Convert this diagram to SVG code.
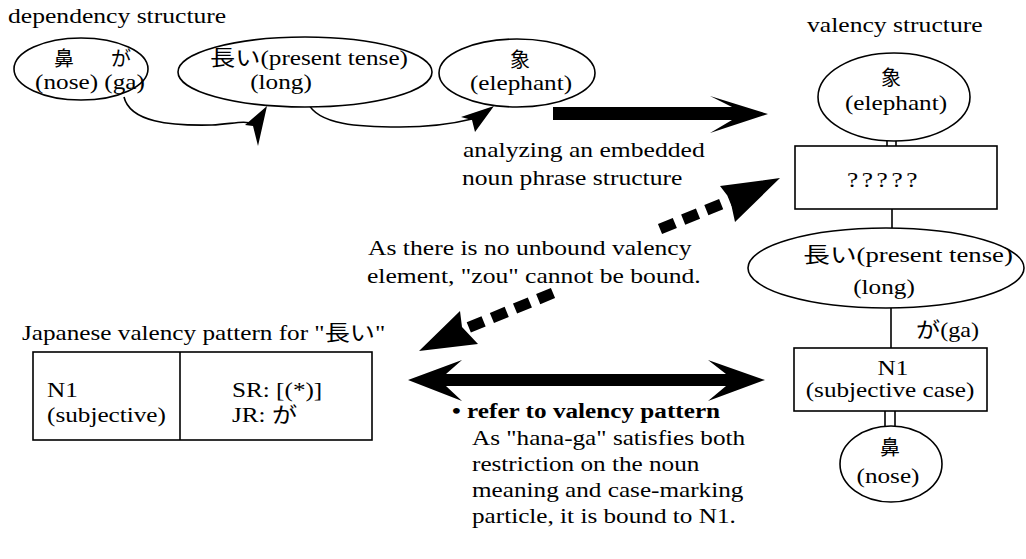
<svg xmlns="http://www.w3.org/2000/svg" width="1026" height="559" viewBox="0 0 1026 559" font-family="Liberation Serif, Noto Sans CJK JP, serif">
<style>
.t{font-size:21px;fill:#000}
.c{text-anchor:middle}
.b{font-weight:bold}
.k{font-size:20px;fill:#000}
.q{letter-spacing:3px}
.shape{fill:#fff;stroke:#000;stroke-width:1.6}
.line{fill:none;stroke:#000;stroke-width:1.6}
.dash{fill:none;stroke:#000;stroke-width:11;stroke-dasharray:16 9}
.head{fill:#000;stroke:none}
</style>
<rect width="1026" height="559" fill="#fff"/>

<text class="t" transform="translate(8,23) scale(1.22,1)">dependency structure</text>
<text class="t" transform="translate(807,32) scale(1.22,1)">valency structure</text>

<g id="connectors">
  <path class="line" d="M124,97 C130,122 170,126 212,125 C232,124 245,120 253,124"/>
  <polygon class="head" points="267,106 245,125 253,126 258,146"/>
  <path class="line" d="M308,103 C318,125 360,127 400,127 C430,127 452,124 472,119"/>
  <polygon class="head" points="494,106 461,117 472,120 475,132"/>
  <polygon class="head" points="553,107 732,107 710,96 768,114 710,133 732,120 553,120"/>
  <path class="dash" d="M660,229 L734,199"/>
  <polygon class="head" points="780,178 720,186 730,199 735,222"/>
  <path class="dash" d="M553,293 L465,329"/>
  <polygon class="head" points="419,351 460,311 462,327 478,344"/>
  <polygon class="head" points="408,380 462,360 446,374 726,374 708,360 765,380 708,401 726,386 446,386 462,401"/>
  <line class="line" x1="887" y1="138" x2="887" y2="146"/>
  <line class="line" x1="896" y1="138" x2="896" y2="146"/>
  <line class="line" x1="892" y1="209" x2="892" y2="228"/>
  <line class="line" x1="891" y1="308" x2="891" y2="348"/>
  <line class="line" x1="885" y1="411" x2="885" y2="428"/>
  <line class="line" x1="895" y1="411" x2="895" y2="428"/>
</g>

<g id="dep-hana-ga">
  <ellipse class="shape" cx="81" cy="69" rx="67" ry="31"/>
  <text class="k"><tspan x="54" y="66">鼻</tspan><tspan x="111" y="66">が</tspan></text>
  <text class="t c" transform="translate(90,89) scale(1.2,1)">(nose) (ga)</text>
</g>

<g id="dep-nagai">
  <ellipse class="shape" cx="305" cy="72" rx="127" ry="35"/>
  <text class="t c" transform="translate(309,65) scale(1.2,1)">長い(present tense)</text>
  <text class="t c" transform="translate(281,89) scale(1.2,1)">(long)</text>
</g>

<g id="dep-zou">
  <ellipse class="shape" cx="517" cy="73" rx="78" ry="34"/>
  <text class="k c" x="520" y="67">象</text>
  <text class="t c" transform="translate(521,90) scale(1.2,1)">(elephant)</text>
</g>

<g id="label-analyzing">
  <text class="t" transform="translate(463,157) scale(1.22,1)">analyzing an embedded</text>
  <text class="t" transform="translate(462,185) scale(1.22,1)">noun phrase structure</text>
</g>

<g id="val-zou">
  <ellipse class="shape" cx="894" cy="97" rx="76" ry="44"/>
  <text class="k c" x="891" y="85">象</text>
  <text class="t c" transform="translate(896,110) scale(1.2,1)">(elephant)</text>
</g>

<g id="val-unknown">
  <rect class="shape" x="795" y="146" width="202" height="63"/>
  <text class="t c q" transform="translate(884,187) scale(1.2,1)">?????</text>
</g>

<g id="val-nagai">
  <ellipse class="shape" cx="886" cy="268" rx="138" ry="40"/>
  <text class="t c" transform="translate(908,262) scale(1.27,1)">長い(present tense)</text>
  <text class="t c" transform="translate(884,294) scale(1.2,1)">(long)</text>
</g>

<text class="t" transform="translate(916,337) scale(1.15,1)">が(ga)</text>

<g id="val-n1">
  <rect class="shape" x="794" y="348" width="193" height="63"/>
  <text class="t c" transform="translate(893,375) scale(1.2,1)">N1</text>
  <text class="t c" transform="translate(890,397) scale(1.2,1)">(subjective case)</text>
</g>

<g id="val-hana">
  <ellipse class="shape" cx="891" cy="464" rx="51" ry="38"/>
  <text class="k c" x="890" y="455">鼻</text>
  <text class="t c" transform="translate(888,483) scale(1.2,1)">(nose)</text>
</g>

<g id="label-unbound">
  <text class="t" transform="translate(368,255) scale(1.22,1)">As there is no unbound valency</text>
  <text class="t" transform="translate(367,283) scale(1.22,1)">element, "zou" cannot be bound.</text>
</g>

<g id="pattern-table">
  <text class="t" transform="translate(22,340) scale(1.2,1)">Japanese valency pattern for "長い"</text>
  <rect class="shape" x="33" y="352" width="339" height="88"/>
  <line class="line" x1="180" y1="352" x2="180" y2="440"/>
  <text class="t" transform="translate(47,397) scale(1.2,1)">N1</text>
  <text class="t" transform="translate(47,422) scale(1.2,1)">(subjective)</text>
  <text class="t" transform="translate(232,397) scale(1.2,1)">SR: [(*)]</text>
  <text class="t" transform="translate(232,422) scale(1.2,1)">JR: が</text>
</g>

<g id="label-refer">
  <text class="t b" transform="translate(452,418) scale(1.2,1)">• refer to valency pattern</text>
  <text class="t" transform="translate(472,445) scale(1.2,1)">As "hana-ga" satisfies both</text>
  <text class="t" transform="translate(472,471) scale(1.2,1)">restriction on the noun</text>
  <text class="t" transform="translate(472,497) scale(1.2,1)">meaning and case-marking</text>
  <text class="t" transform="translate(472,523) scale(1.2,1)">particle, it is bound to N1.</text>
</g>
</svg>
